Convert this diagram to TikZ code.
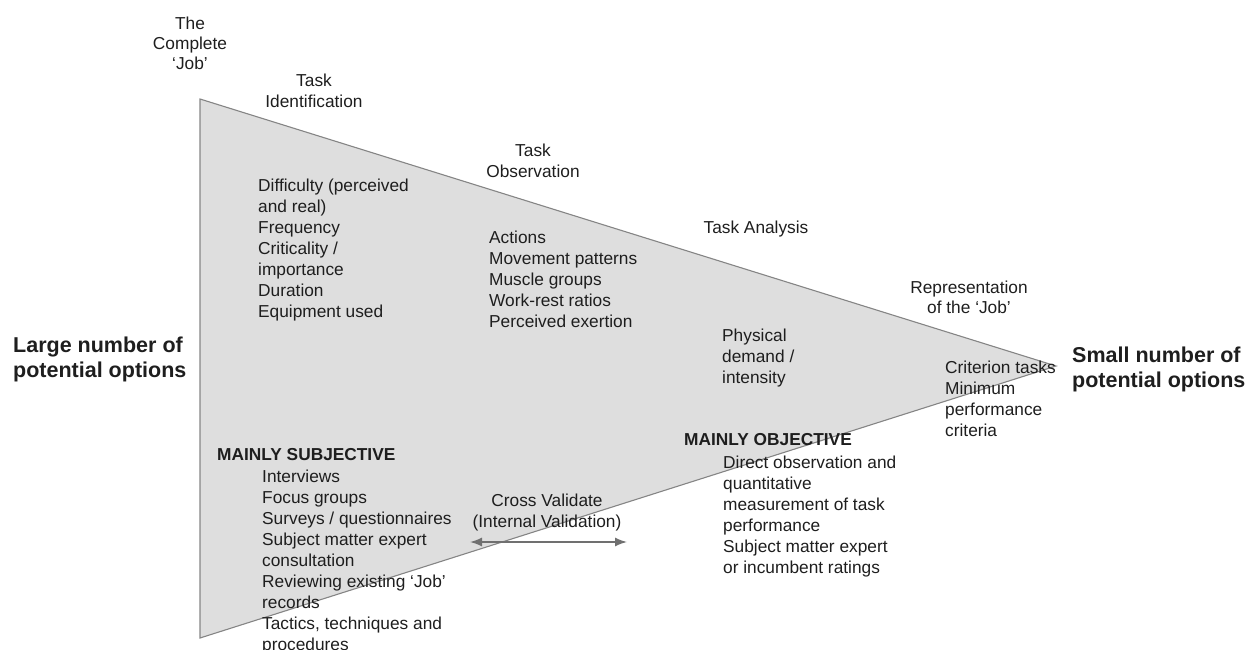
\documentclass[tikz,border=0pt]{standalone}
\usepackage{fontspec}
\setmainfont{Liberation Sans}
\usetikzlibrary{arrows.meta}
\definecolor{funnelfill}{HTML}{DEDEDE}
\definecolor{funneledge}{HTML}{858585}
\definecolor{ink}{HTML}{1E1E1E}
\definecolor{arrowgray}{HTML}{707070}
\begin{document}
\begin{tikzpicture}[x=1pt,y=-1pt,
  lbl/.style={inner sep=0pt, text=ink, font=\fontsize{17.3}{21}\selectfont, align=left, anchor=north west},
  clbl/.style={lbl, align=center, anchor=north},
  head/.style={lbl, font=\fontsize{17.3}{21}\selectfont\bfseries},
  big/.style={inner sep=0pt, text=ink, font=\fontsize{21.5}{25}\selectfont\bfseries, align=left, anchor=north west},
  crossarrow/.style={arrowgray, line width=1.5pt, {Latex[length=12pt,width=9pt]}-{Latex[length=12pt,width=9pt]}}
]
\useasboundingbox (0,0) rectangle (1256,650);

% the funnel
\coordinate (topv) at (200,99);
\coordinate (botv) at (200,638);
\coordinate (tipv) at (1056,366);
\draw[funneledge, fill=funnelfill, line width=1.1pt, line join=miter] (topv) -- (tipv) -- (botv) -- cycle;

% stage labels above the upper edge
\node[clbl, font=\fontsize{17.3}{20}\selectfont] (job) at (190,16.5) {The\\Complete\\‘Job’};
\node[clbl] (ident) at (314,73.5) {Task\\Identification};
\node[clbl] (obs) at (533,143.5) {Task\\Observation};
\node[clbl] (anal) at (756,221) {Task Analysis};
\node[clbl, font=\fontsize{17.3}{20}\selectfont] (repr) at (969,280.5) {Representation\\of the ‘Job’};

% contents of each stage
\node[lbl] (diff) at (258,178.5) {Difficulty (perceived\\and real)\\Frequency\\Criticality /\\importance\\Duration\\Equipment used};
\node[lbl] (act) at (489,230.5) {Actions\\Movement patterns\\Muscle groups\\Work-rest ratios\\Perceived exertion};
\node[lbl] (phys) at (722,328.5) {Physical\\demand /\\intensity};
\node[lbl] (crit) at (945,360.5) {Criterion tasks\\Minimum\\performance\\criteria};

% the two ends
\node[big] (large) at (13,337) {Large number of\\potential options};
\node[big] (small) at (1072,347) {Small number of\\potential options};

% methods
\node[head] (subj) at (217,448.5) {MAINLY SUBJECTIVE};
\node[lbl] (subjlist) at (262,469.5) {Interviews\\Focus groups\\Surveys / questionnaires\\Subject matter expert\\consultation\\Reviewing existing ‘Job’\\records\\Tactics, techniques and\\procedures};
\node[head] (objt) at (684,433.5) {MAINLY OBJECTIVE};
\node[lbl] (objlist) at (723,455.5) {Direct observation and\\quantitative\\measurement of task\\performance\\Subject matter expert\\or incumbent ratings};

% cross validation between the two
\node[clbl] (cross) at (547,493.5) {Cross Validate\\(Internal Validation)};
\coordinate (cvL) at (470,542);
\coordinate (cvR) at (627,542);
\draw[crossarrow] (cvL) -- (cvR);
\end{tikzpicture}
\end{document}
